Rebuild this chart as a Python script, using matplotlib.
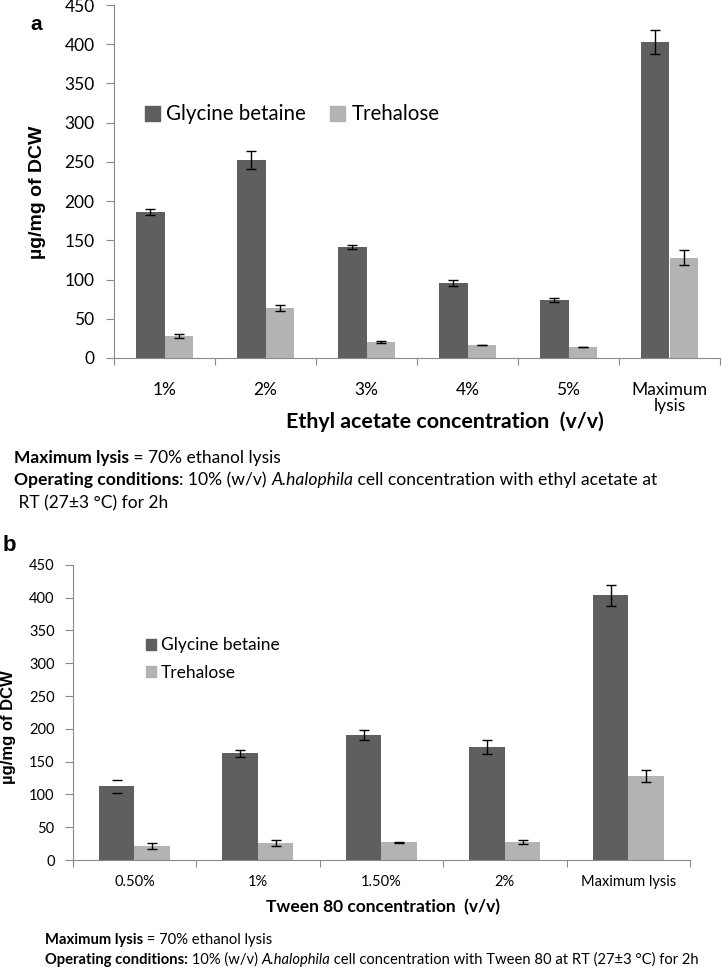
import numpy as np
import matplotlib
matplotlib.use('Agg')
import matplotlib.pyplot as plt
from matplotlib.patches import Patch
from matplotlib.transforms import IdentityTransform

# Data
cats_a = ['1%', '2%', '3%', '4%', '5%', 'Maximum\nlysis']
gb_a = [186.5, 252.7, 141.4, 95.5, 73.9, 402.5]
gb_a_err = [4.0, 11.7, 2.8, 4.0, 2.5, 15.5]
tre_a = [28.0, 63.7, 20.0, 16.6, 14.0, 127.8]
tre_a_err = [2.0, 3.4, 1.5, 0.6, 0.3, 9.3]

cats_b = ['0.50%', '1%', '1.50%', '2%', 'Maximum lysis']
gb_b = [112.7, 162.8, 190.2, 171.9, 403.9]
gb_b_err = [10.0, 5.6, 8.0, 10.7, 16.0]
tre_b = [20.9, 25.4, 27.0, 27.0, 127.7]
tre_b_err = [4.3, 4.8, 1.2, 3.0, 9.0]

GB_COL = '#5F5F5F'
TRE_COL = '#B3B3B3'
AX_COL = '#8A8A8A'
FONT = 'Lato'

W, H = 722, 967
fig = plt.figure(figsize=(W / 100, H / 100), dpi=100)


def px_axes(l, t, r, b):
    return fig.add_axes([l / W, 1 - b / H, (r - l) / W, (b - t) / H])


def bar_panel(ax, cats, gb, gb_err, tre, tre_err, bw, tick_fs, xpad, ypad):
    x = np.arange(len(cats))
    ax.bar(x - bw / 2, gb, bw, color=GB_COL, zorder=2)
    ax.bar(x + bw / 2, tre, bw, color=TRE_COL, zorder=2)
    eb1 = ax.errorbar(x - bw / 2, gb, yerr=gb_err, fmt='none', ecolor='black',
                      elinewidth=1, capsize=3.3, capthick=1, zorder=3)
    ax.errorbar(x + bw / 2, tre, yerr=tre_err, fmt='none', ecolor='black',
                elinewidth=1, capsize=3.3, capthick=1, zorder=3)
    ax.set_xlim(-0.5, len(cats) - 0.5)
    ax.set_ylim(0, 450)
    ax.set_yticks(np.arange(0, 451, 50))
    ax.set_xticks(np.arange(len(cats) + 1) - 0.5)
    ax.set_xticklabels([])
    ax.set_xticks(x, minor=True)
    ax.set_xticklabels(cats, minor=True, fontsize=tick_fs, family=FONT)
    ax.tick_params(axis='x', which='major', length=5, color=AX_COL, direction='out')
    ax.tick_params(axis='x', which='minor', length=0, pad=xpad)
    ax.tick_params(axis='y', length=6, color=AX_COL, direction='out', pad=ypad,
                   labelsize=tick_fs)
    for lab in ax.get_yticklabels():
        lab.set_family(FONT)
    for s in ['top', 'right']:
        ax.spines[s].set_visible(False)
    for s in ['left', 'bottom']:
        ax.spines[s].set_color(AX_COL)
    return eb1


def rich(x, y, parts, size):
    r = fig.canvas.get_renderer()
    for s, w, st in parts:
        t = fig.text(x, H - y, s, fontsize=size, fontweight=w, fontstyle=st,
                     family=FONT, transform=IdentityTransform(), va='baseline')
        x = t.get_window_extent(renderer=r).x1


# ---- panel a ----
ax1 = px_axes(114, 5, 720, 358)
bar_panel(ax1, cats_a, gb_a, gb_a_err, tre_a, tre_a_err, 0.284, 12.5, 17, 8)
for lab in ax1.get_xticklabels(minor=True):
    lab.set_linespacing(1.0)
fig.text(445 / W, 1 - 422 / H, 'Ethyl acetate concentration  (v/v)', ha='center',
         va='center', fontsize=15.4, fontweight='bold', family=FONT)
ax1.legend(handles=[Patch(color=GB_COL, label='Glycine betaine'),
                    Patch(color=TRE_COL, label='Trehalose')],
           ncol=2, frameon=False, loc='center left', bbox_to_anchor=(0.051, 0.69),
           borderpad=0, borderaxespad=0, handlelength=0.72, handleheight=0.72,
           handletextpad=0.3, columnspacing=1.2, prop={'family': FONT, 'size': 14.8})
fig.text(38 / W, 1 - 192 / H, 'µg/mg of DCW', rotation=90, ha='center', va='center',
         fontsize=14, fontweight='bold', family='Liberation Sans')
fig.text(30 / W, 1 - 30 / H, 'a', fontsize=15, fontweight='bold', family='Liberation Sans')

rich(14, 463, [('Maximum lysis', 'bold', 'normal'), (' = 70% ethanol lysis', 'normal', 'normal')], 12.5)
rich(14, 485, [('Operating conditions', 'bold', 'normal'), (': 10% (w/v) ', 'normal', 'normal'),
               ('A.halophila', 'normal', 'italic'),
               (' cell concentration with ethyl acetate at', 'normal', 'normal')], 12.6)
rich(14, 508, [(' RT (27±3 °C) for 2h', 'normal', 'normal')], 12.5)

# ---- panel b ----
ax2 = px_axes(72.7, 564.8, 690, 860)
eb = bar_panel(ax2, cats_b, gb_b, gb_b_err, tre_b, tre_b_err, 0.287, 10.5, 11, 7)
# the first glycine betaine error bar shows caps only
eb[2][0].set_linewidths([0, 1, 1, 1, 1])
fig.text(383 / W, 1 - 907 / H, 'Tween 80 concentration  (v/v)', ha='center',
         va='center', fontsize=12.5, fontweight='bold', family=FONT)
ax2.legend(handles=[Patch(color=GB_COL, label='Glycine betaine'),
                    Patch(color=TRE_COL, label='Trehalose')],
           frameon=False, loc='center left', bbox_to_anchor=(0.118, 0.681),
           borderpad=0, borderaxespad=0, handlelength=0.6, handleheight=0.6,
           handletextpad=0.3, labelspacing=0.65, prop={'family': FONT, 'size': 12.5})
fig.text(9 / W, 1 - 727 / H, 'µg/mg of DCW', rotation=90, ha='center', va='center',
         fontsize=12, fontweight='bold', family='Liberation Sans')
fig.text(3 / W, 1 - 551 / H, 'b', fontsize=16, fontweight='bold', family='Liberation Sans')

rich(45, 944, [('Maximum lysis', 'bold', 'normal'), (' = 70% ethanol lysis', 'normal', 'normal')], 10.6)
rich(45, 964, [('Operating conditions:', 'bold', 'normal'), (' 10% (w/v) ', 'normal', 'normal'),
               ('A.halophila', 'normal', 'italic'),
               (' cell concentration with Tween 80 at RT (27±3 °C) for 2h', 'normal', 'normal')], 10.6)

fig.savefig('out.png', dpi=100)
